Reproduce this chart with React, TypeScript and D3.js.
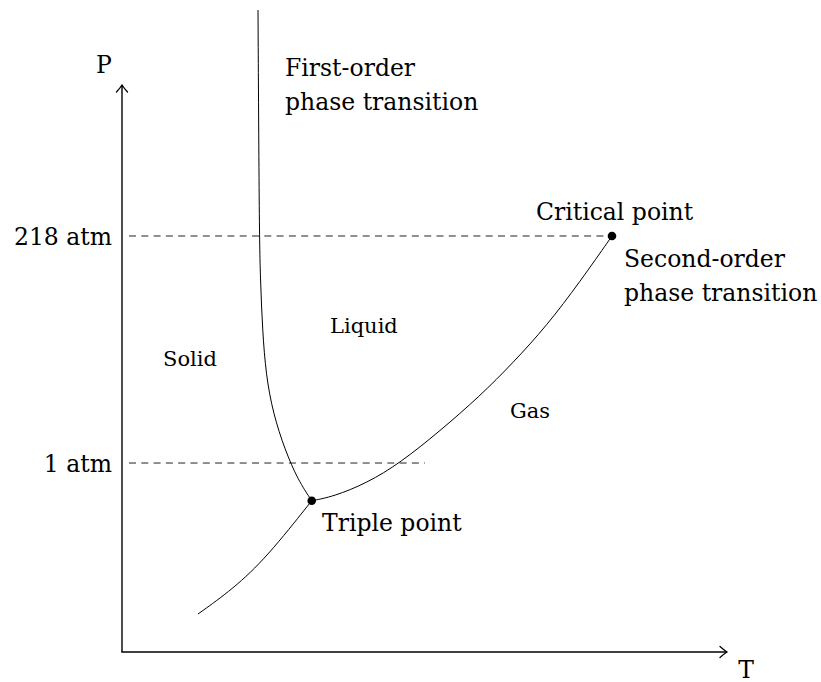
import React from "react";
import * as d3 from "d3";

// Phase diagram data (T and P in arbitrary units, 0-100 along the axes)
const sublimationT = [12.56, 18.35, 23.97, 31.36];
const sublimationP = [6.7, 11.11, 16.75, 26.68];

const vaporizationT = [31.36, 34.88, 40.5, 45.95, 52.56, 59.17, 64.63, 70.25, 75.7, 80.99];
const vaporizationP = [26.68, 27.39, 29.8, 33.33, 38.98, 45.15, 51.0, 57.6, 65.3, 73.37];

const meltingT = [31.36, 29.09, 26.94, 24.96, 23.8, 23.22, 22.89, 22.69, 22.48];
const meltingP = [26.68, 30.34, 35.63, 42.15, 48.85, 56.79, 65.61, 73.37, 113.23];

const triplePoint = { T: 31.36, P: 26.68 };
const criticalPoint = { T: 80.99, P: 73.37 };

const pressureTickLabels = ["1 atm", "218 atm"];
const pressureTickValues = [33.33, 73.37];
const pressureTickEnds = [50.08, 80.99];

const W = 821;
const H = 682;
const FONT = "'DejaVu Serif', serif";

export default function App() {
  const x = d3.scaleLinear().domain([0, 100]).range([122, 727]);
  const y = d3.scaleLinear().domain([0, 100]).range([652, 85]);

  const line = d3
    .line<[number, number]>()
    .x((d) => x(d[0]))
    .y((d) => y(d[1]))
    .curve(d3.curveBasis);

  const zip = (a: number[], b: number[]) => a.map((v, i) => [v, b[i]] as [number, number]);

  const x0 = x(0);
  const y0 = y(0);
  const xEnd = x(100);
  const yEnd = y(100);

  return (
    <svg
      width={W}
      height={H}
      style={{ position: "absolute", left: 0, top: 0, background: "#fff" }}
      fontFamily={FONT}
    >
      {/* dashed reference lines */}
      {pressureTickValues.map((p, i) => (
        <line
          key={"d" + i}
          x1={x0 + 7}
          x2={x(pressureTickEnds[i])}
          y1={y(p)}
          y2={y(p)}
          stroke="#222"
          strokeWidth={1}
          strokeDasharray="7,5.3"
        />
      ))}
      {/* tick labels */}
      {pressureTickLabels.map((t, i) => (
        <text
          key={"t" + i}
          x={112}
          y={y(pressureTickValues[i]) + 9}
          textAnchor="end"
          fontSize={23.5}
          fill="#000"
        >
          {t}
        </text>
      ))}

      {/* curves */}
      <path d={line(zip(sublimationT, sublimationP)) || ""} fill="none" stroke="#000" strokeWidth={1} />
      <path d={line(zip(vaporizationT, vaporizationP)) || ""} fill="none" stroke="#000" strokeWidth={1} />
      <path d={line(zip(meltingT, meltingP)) || ""} fill="none" stroke="#000" strokeWidth={1} />

      {/* axes */}
      <line x1={x0} y1={y0} x2={x0} y2={yEnd} stroke="#000" strokeWidth={1.4} />
      <line x1={x0 - 0.7} y1={y0} x2={xEnd} y2={y0} stroke="#000" strokeWidth={1.4} />
      <path
        d={`M${x0 - 5.5},${yEnd + 7} Q${x0 - 1.5},${yEnd + 2.5} ${x0},${yEnd} Q${x0 + 1.5},${yEnd + 2.5} ${x0 + 5.5},${yEnd + 7}`}
        fill="none"
        stroke="#000"
        strokeWidth={1.3}
        strokeLinecap="round"
      />
      <path
        d={`M${xEnd - 7},${y0 - 5.5} Q${xEnd - 2.5},${y0 - 1.5} ${xEnd},${y0} Q${xEnd - 2.5},${y0 + 1.5} ${xEnd - 7},${y0 + 5.5}`}
        fill="none"
        stroke="#000"
        strokeWidth={1.3}
        strokeLinecap="round"
      />
      <text x={x0 - 18} y={73} textAnchor="middle" fontSize={23.5}>P</text>
      <text x={746} y={678} textAnchor="middle" fontSize={23.5}>T</text>

      {/* points */}
      <circle cx={x(triplePoint.T)} cy={y(triplePoint.P)} r={4.3} fill="#000" />
      <circle cx={x(criticalPoint.T)} cy={y(criticalPoint.P)} r={4.3} fill="#000" />

      {/* annotations */}
      <text x={285} y={76} fontSize={23.5}>First-order</text>
      <text x={285} y={110} fontSize={23.5}>phase transition</text>
      <text x={536} y={220} fontSize={23.5}>Critical point</text>
      <text x={624} y={267} fontSize={23.5}>Second-order</text>
      <text x={624} y={301} fontSize={23.5}>phase transition</text>
      <text x={322} y={531} fontSize={23.5}>Triple point</text>

      <text x={330} y={333} fontSize={21}>Liquid</text>
      <text x={163} y={366} fontSize={21}>Solid</text>
      <text x={510} y={418} fontSize={21}>Gas</text>
    </svg>
  );
}
